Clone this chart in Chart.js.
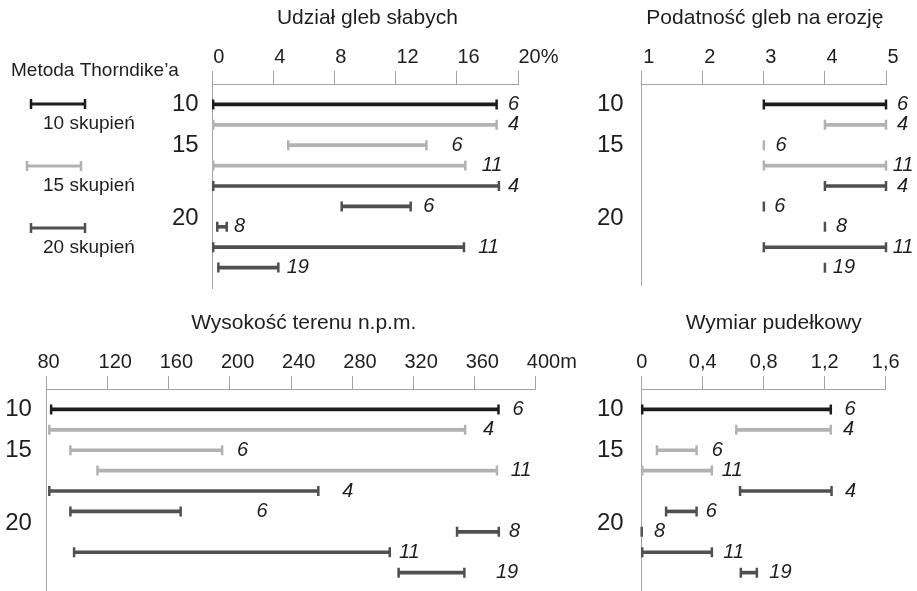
<!DOCTYPE html>
<html>
<head>
<meta charset="utf-8">
<script src="https://cdn.jsdelivr.net/npm/chart.js@4.4.0/dist/chart.umd.min.js"></script>
<style>
  html, body { margin: 0; padding: 0; background: #fff; }
  #wrap { position: relative; width: 917px; height: 591px; overflow: hidden; }
  canvas { position: absolute; }
</style>
</head>
<body>
<div id="wrap">
  <canvas id="udzial" width="560" height="300" style="left:0;top:0"></canvas>
  <canvas id="podatnosc" width="357" height="300" style="left:560px;top:0"></canvas>
  <canvas id="wysokosc" width="580" height="291" style="left:0;top:300px"></canvas>
  <canvas id="wymiar" width="337" height="291" style="left:580px;top:300px"></canvas>
</div>
<script>
// rows: one per (number of clusters, cluster) pair, top to bottom
const rowGroups = ['10', '15', '15', '15', '20', '20', '20', '20', '20'];
const rowLabels = ['6', '4', '6', '11', '4', '6', '8', '11', '19'];
const groupNames = ['10', '15', '20'];
const groupRow = [0, 2, 5.6];

const legendTitle = 'Metoda Thorndike’a';
const legendNames = ['10 skupień', '15 skupień', '20 skupień'];

// Udział gleb słabych [%]
const udzialStart = [0, 0, 4.95, 0, 0, 8.45, 0.3, 0, 0.37];
const udzialEnd = [18.6, 18.6, 14.0, 16.55, 18.75, 12.97, 0.92, 16.46, 4.3];
const udzialLabelAt = [19.34, 19.34, 15.65, 17.62, 19.34, 13.79, 1.39, 17.39, 4.85];
const udzialTicks = [0, 4, 8, 12, 16, 20];
const udzialTickText = ['0', '4', '8', '12', '16', '20%'];

// Podatność gleb na erozję
const podatnoscStart = [3, 4, 3, 3, 4, 3, 4, 3, 4];
const podatnoscEnd = [5, 5, 3, 5, 5, 3, 4, 5, 4];
const podatnoscLabelAt = [5.18, 5.18, 3.19, 5.11, 5.18, 3.17, 4.18, 5.11, 4.13];
const podatnoscTicks = [1, 2, 3, 4, 5];
const podatnoscTickText = ['1', '2', '3', '4', '5'];

// Wysokość terenu n.p.m. [m]
const wysokoscStart = [83.1, 81.9, 95.7, 113.4, 81.9, 95.7, 348.5, 98.1, 310.3];
const wysokoscEnd = [375.6, 353.8, 194.9, 374.6, 257.8, 167.8, 375.8, 304.5, 353.3];
const wysokoscLabelAt = [384.8, 365.4, 204.6, 383.6, 273.5, 217.4, 382.4, 310.5, 373.9];
const wysokoscTicks = [80, 120, 160, 200, 240, 280, 320, 360, 400];
const wysokoscTickText = ['80', '120', '160', '200', '240', '280', '320', '360', '400m'];

// Wymiar pudełkowy
const wymiarStart = [0, 0.62, 0.10, 0, 0.645, 0.16, 0, 0, 0.65];
const wymiarEnd = [1.24, 1.24, 0.36, 0.46, 1.245, 0.36, 0, 0.46, 0.755];
const wymiarLabelAt = [1.33, 1.32, 0.46, 0.525, 1.333, 0.42, 0.08, 0.535, 0.837];
const wymiarTicks = [0, 0.4, 0.8, 1.2, 1.6];
const wymiarTickText = ['0', '0,4', '0,8', '1,2', '1,6'];

const FONT = "'Liberation Sans', Arial, sans-serif";
const INK = '#1e1e1e';
const AXIS = '#a3a3a3';
const groupColor = { '10': '#1c1c1c', '15': '#b2b2b2', '20': '#505050' };

Chart.defaults.font.family = FONT;

function drawCap(ctx, x, y) {
  ctx.moveTo(x, y - 5);
  ctx.lineTo(x, y + 5);
}

function drawLegend(ctx) {
  ctx.fillStyle = INK;
  ctx.font = '19px ' + FONT;
  ctx.textAlign = 'left';
  ctx.textBaseline = 'alphabetic';
  ctx.fillText(legendTitle, 11, 76);
  const starts = [31, 27, 31];
  legendNames.forEach((name, k) => {
    const y = 104 + k * 62;
    const c = groupColor[groupNames[k]];
    ctx.fillStyle = c;
    ctx.fillRect(starts[k], y - 1.5, 54, 3);
    ctx.strokeStyle = c;
    ctx.lineWidth = 2.5;
    ctx.beginPath();
    drawCap(ctx, starts[k], y);
    drawCap(ctx, starts[k] + 54, y);
    ctx.stroke();
    ctx.fillStyle = INK;
    ctx.fillText(name, 43, y + 24.5);
  });
}

function makePanel(cfg) {
  const colors = rowGroups.map(g => groupColor[g]);
  const rows = cfg.start.map((s, i) => ({ y: i, x: [s, cfg.end[i]] }));
  const canvas = document.getElementById(cfg.id);

  const decor = {
    id: 'decor',
    afterDatasetsDraw(chart) {
      const ctx = chart.ctx;
      const xs = chart.scales.x, ys = chart.scales.y, area = chart.chartArea;
      const meta = chart.getDatasetMeta(0);
      ctx.save();
      meta.data.forEach((bar, i) => {
        ctx.strokeStyle = colors[i];
        ctx.lineWidth = 2.5;
        ctx.beginPath();
        drawCap(ctx, bar.base, bar.y);
        drawCap(ctx, bar.x, bar.y);
        ctx.stroke();
      });

      ctx.fillStyle = INK;
      ctx.font = 'italic 20px ' + FONT;
      ctx.textAlign = 'left';
      ctx.textBaseline = 'middle';
      rowLabels.forEach((t, i) => {
        ctx.fillText(t, xs.getPixelForValue(cfg.labelAt[i]), ys.getPixelForValue(i));
      });

      ctx.font = '24px ' + FONT;
      ctx.textAlign = 'right';
      groupNames.forEach((g, k) => {
        ctx.fillText(g, area.left - cfg.groupGap, ys.getPixelForValue(groupRow[k]));
      });

      ctx.font = '21px ' + FONT;
      ctx.textAlign = 'center';
      ctx.textBaseline = 'alphabetic';
      ctx.fillText(cfg.title, (area.left + area.right) / 2 + cfg.titleShift, cfg.titleY);

      if (cfg.legend) drawLegend(ctx);
      ctx.restore();
    }
  };

  return new Chart(canvas, {
    type: 'bar',
    data: {
      datasets: [{
        data: rows,
        backgroundColor: colors,
        borderWidth: 0,
        barThickness: 3,
        clip: false
      }]
    },
    options: {
      indexAxis: 'y',
      responsive: false,
      animation: false,
      layout: { padding: cfg.padding },
      plugins: {
        legend: { display: false },
        tooltip: { enabled: false },
        title: { display: false }
      },
      scales: {
        x: {
          type: 'linear',
          position: 'top',
          min: cfg.ticks[0],
          max: cfg.ticks[cfg.ticks.length - 1],
          afterBuildTicks: s => { s.ticks = cfg.ticks.map(v => ({ value: v })); },
          afterFit: s => { s.height = cfg.axisTop; s.paddingLeft = 0; s.paddingRight = 0; },
          ticks: {
            autoSkip: false,
            maxRotation: 0,
            align: cfg.tickAlign,
            labelOffset: cfg.tickShift,
            padding: 2,
            color: INK,
            font: { size: 20 },
            callback: (v, i) => cfg.tickText[i]
          },
          grid: { drawOnChartArea: false, drawTicks: true, tickLength: 13, color: AXIS, lineWidth: 1 },
          border: { display: true, color: AXIS, width: 1 }
        },
        y: {
          type: 'linear',
          min: -1,
          max: cfg.yMax,
          reverse: true,
          offset: false,
          ticks: { display: false },
          grid: { display: false },
          border: { display: true, color: AXIS, width: 1 },
          afterFit: s => { s.width = 0; }
        }
      }
    },
    plugins: [decor]
  });
}

makePanel({
  id: 'udzial', title: 'Udział gleb słabych', titleShift: 2, titleY: 23.5,
  start: udzialStart, end: udzialEnd, labelAt: udzialLabelAt,
  ticks: udzialTicks, tickText: udzialTickText, tickAlign: 'start', tickShift: 0.5,
  padding: { left: 212.7, right: 42, top: 0, bottom: 12 }, axisTop: 84, yMax: 9,
  groupGap: 14, legend: true
});

makePanel({
  id: 'podatnosc', title: 'Podatność gleb na erozję', titleShift: 1, titleY: 24,
  start: podatnoscStart, end: podatnoscEnd, labelAt: podatnoscLabelAt,
  ticks: podatnoscTicks, tickText: podatnoscTickText, tickAlign: 'start', tickShift: 1.5,
  padding: { left: 81.7, right: 31, top: 0, bottom: 15 }, axisTop: 84, yMax: 8.85,
  groupGap: 18
});

makePanel({
  id: 'wysokosc', title: 'Wysokość terenu n.p.m.', titleShift: 12.6, titleY: 29,
  start: wysokoscStart, end: wysokoscEnd, labelAt: wysokoscLabelAt,
  ticks: wysokoscTicks, tickText: wysokoscTickText, tickAlign: 'start', tickShift: -9,
  padding: { left: 46.4, right: 44.2, top: 0, bottom: 0 }, axisTop: 89, yMax: 8.9,
  groupGap: 14.5
});

makePanel({
  id: 'wymiar', title: 'Wymiar pudełkowy', titleShift: 10, titleY: 29,
  start: wymiarStart, end: wymiarEnd, labelAt: wymiarLabelAt,
  ticks: wymiarTicks, tickText: wymiarTickText, tickAlign: 'center', tickShift: 0,
  padding: { left: 61.7, right: 31.3, top: 0, bottom: 0 }, axisTop: 89, yMax: 8.9,
  groupGap: 18
});
</script>
</body>
</html>
